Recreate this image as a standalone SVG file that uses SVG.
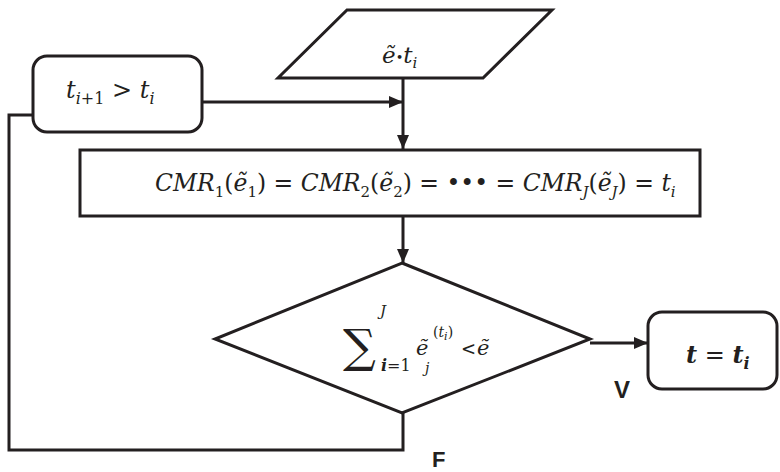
<svg xmlns="http://www.w3.org/2000/svg" width="780" height="472" viewBox="0 0 780 472">
<defs>
<style>
.s{fill:#fff;stroke:#231f20;stroke-width:3}
.c{fill:none;stroke:#231f20;stroke-width:3}
.m{font-family:"DejaVu Serif","Liberation Serif",serif;font-style:italic;fill:#231f20}
.u{font-family:"DejaVu Serif","Liberation Serif",serif;fill:#231f20}
.b{font-family:"Liberation Sans",Arial,sans-serif;font-weight:bold;fill:#231f20}
</style>
<marker id="ah" markerWidth="14" markerHeight="12" refX="14" refY="6" orient="auto" markerUnits="userSpaceOnUse">
<path d="M0,0 L14,6 L0,12 Z" fill="#231f20"/>
</marker>
</defs>
<rect width="780" height="472" fill="#fff"/>
<g id="connectors">
<line class="c" x1="202" y1="102" x2="403" y2="102" marker-end="url(#ah)"/>
<line class="c" x1="403" y1="78" x2="403" y2="149" marker-end="url(#ah)"/>
<line class="c" x1="403" y1="217" x2="403" y2="263" marker-end="url(#ah)"/>
<line class="c" x1="590" y1="343" x2="648" y2="343" marker-end="url(#ah)"/>
<polyline class="c" points="403,413 403,450 9,450 9,115 33,115"/>
</g>
<g id="input">
<polygon class="s" points="347,10 552,10 483,78 278,78"/>
<text class="m" x="382" y="63" font-size="23">ẽ<tspan font-style="normal" font-size="13" dy="-1">•</tspan><tspan dy="1">t</tspan><tspan font-size="15" dy="5">i</tspan></text>
</g>
<g id="loop">
<rect class="s" x="33" y="56" width="169" height="76" rx="14"/>
<text class="m" x="66" y="98" font-size="24">t<tspan font-size="16" dy="6">i</tspan><tspan class="u" font-style="normal" font-size="16">+1</tspan><tspan class="u" font-style="normal" dy="-6"> &gt; </tspan>t<tspan font-size="16" dy="6">i</tspan></text>
</g>
<g id="equation">
<rect class="s" x="80" y="150" width="620" height="66"/>
<text class="m" x="155" y="191" font-size="23.5">CMR<tspan class="u" font-style="normal" font-size="15" dy="6">1</tspan><tspan class="u" font-style="normal" dy="-6">(</tspan>ẽ<tspan class="u" font-style="normal" font-size="15" dy="6">1</tspan><tspan class="u" font-style="normal" dy="-6">)  =   </tspan>CMR<tspan class="u" font-style="normal" font-size="15" dy="6">2</tspan><tspan class="u" font-style="normal" dy="-6">(</tspan>ẽ<tspan class="u" font-style="normal" font-size="15" dy="6">2</tspan><tspan class="u" font-style="normal" dy="-6">)  = •••  =   </tspan>CMR<tspan font-size="15" dy="6">J</tspan><tspan class="u" font-style="normal" dy="-6">(</tspan>ẽ<tspan font-size="15" dy="6">J</tspan><tspan class="u" font-style="normal" dy="-6">)  =  </tspan>t<tspan font-size="15" dy="6">i</tspan></text>
</g>
<g id="decision">
<polygon class="s" points="402,263 590,339 402,413 215,339"/>
<text class="u" x="343" y="362" font-size="46">∑</text>
<text class="m" x="380" y="316" font-size="15">J</text>
<text class="m" x="381" y="371" font-size="16" font-weight="bold">i<tspan class="u" font-style="normal" font-weight="normal">=1</tspan></text>
<text class="m" x="416" y="355" font-size="21">ẽ</text>
<text class="m" x="425" y="373" font-size="14">j</text>
<text class="u" x="433" y="337" font-size="14">(<tspan class="m">t</tspan><tspan class="m" font-size="11" dy="3">i</tspan><tspan dy="-3">)</tspan></text>
<text class="u" x="461" y="355" font-size="18">&lt;</text>
<text class="m" x="477" y="355" font-size="21">ẽ</text>
</g>
<g id="result">
<rect class="s" x="648" y="312" width="129" height="77" rx="14"/>
<text class="m" x="686" y="363" font-size="24" font-weight="bold">t<tspan class="u" font-style="normal" font-weight="normal"> = </tspan>t<tspan font-size="16" dy="6">i</tspan></text>
</g>
<g id="labels">
<text class="b" x="614" y="398" font-size="24">V</text>
<text class="b" x="432" y="467" font-size="22">F</text>
</g>
</svg>
